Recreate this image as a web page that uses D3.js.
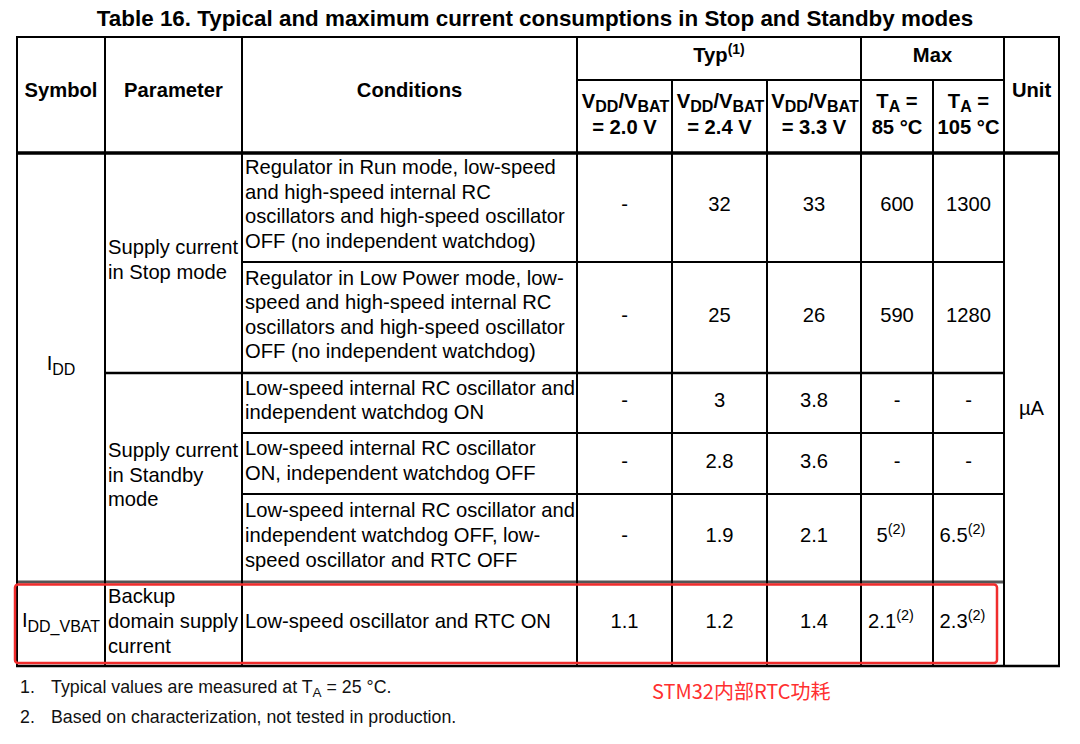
<!DOCTYPE html>
<html><head><meta charset="utf-8">
<script src="https://cdn.jsdelivr.net/npm/d3@7"></script>
<style>
html,body{margin:0;padding:0;background:#fff;}
svg{display:block;font-family:"Liberation Sans",Arial,sans-serif;}
</style></head>
<body>
<svg id="c" width="1080" height="744"></svg>
<script>
// ---------- DATA ----------
const title = "Table 16. Typical and maximum current consumptions in Stop and Standby modes";
const columns = ["Symbol","Parameter","Conditions","typ20","typ24","typ33","max85","max105","Unit"];
const typHeaders = ["= 2.0 V","= 2.4 V","= 3.3 V"];
const maxHeaders = ["85 °C","105 °C"];
const conditions = [
  ["Regulator in Run mode, low-speed","and high-speed internal RC","oscillators and high-speed oscillator","OFF (no independent watchdog)"],
  ["Regulator in Low Power mode, low-","speed and high-speed internal RC","oscillators and high-speed oscillator","OFF (no independent watchdog)"],
  ["Low-speed internal RC oscillator and","independent watchdog ON"],
  ["Low-speed internal RC oscillator","ON, independent watchdog OFF"],
  ["Low-speed internal RC oscillator and","independent watchdog OFF, low-","speed oscillator and RTC OFF"],
  ["Low-speed oscillator and RTC ON"]
];
const typ20  = [null, null, null, null, null, 1.1];
const typ24  = [32, 25, 3, 2.8, 1.9, 1.2];
const typ33  = [33, 26, 3.8, 3.6, 2.1, 1.4];
const max85  = [600, 590, null, null, 5, 2.1];
const max105 = [1300, 1280, null, null, 6.5, 2.3];
const maxNote = [null, null, null, null, "(2)", "(2)"];
const parameters = [
  {rows:[0,1], lines:["Supply current","in Stop mode"]},
  {rows:[2,4], lines:["Supply current","in Standby","mode"]},
  {rows:[5,5], lines:["Backup","domain supply","current"]}
];
const symbols = [
  {rows:[0,4], main:"I", sub:"DD"},
  {rows:[5,5], main:"I", sub:"DD_VBAT"}
];
const unit = "µA";
const footnotes = [
  {n:"1.", parts:[["Typical values are measured at T",0],["A",1],[" = 25 °C.",0]]},
  {n:"2.", parts:[["Based on characterization, not tested in production.",0]]}
];
const annotation = "STM32内部RTC功耗";

// ---------- LAYOUT ----------
const svg = d3.select("#c");
const colEdges = [17,105,242,577,672,767,861,933,1004,1059];
const x = d3.scaleOrdinal().domain(columns).range(colEdges.slice(0,-1));
const xr = d3.scaleOrdinal().domain(columns).range(colEdges.slice(1));
const cx = c => (x(c)+xr(c))/2;
const rowHeights = [110,111,60,61,88,84];
const rowEdges = [152, ...d3.cumsum(rowHeights).map(v=>152+v)];
const yTop = i => rowEdges[i], yBot = i => rowEdges[i+1];
const LH = 24.6;
const FS = 20.2;

// title
svg.append("text").attr("x",535).attr("y",26).attr("text-anchor","middle")
  .attr("font-weight","bold").attr("font-size",22.4).text(title);

const lines = svg.append("g").attr("stroke","#000").attr("fill","none");
function hline(x1,x2,yy,w,col){lines.append("line").attr("x1",x1).attr("x2",x2).attr("y1",yy).attr("y2",yy).attr("stroke-width",w||2).attr("stroke",col||"#000");}
function vline(xx,y1,y2,w){lines.append("line").attr("x1",xx).attr("x2",xx).attr("y1",y1).attr("y2",y2).attr("stroke-width",w||2);}

hline(16,1060,37,2);
hline(577,1004,80,2);
hline(16,1060,153,3.5);
hline(242,1004,yTop(1),2);
hline(105,1004,yTop(2),2.5);
hline(242,1004,yTop(3),2);
hline(242,1004,yTop(4),2);
hline(17,1004,yTop(5),3,"#555");
hline(16,1060,yTop(6),2.5);
[17,105,242,577,861,1004,1059].forEach(v=>vline(v,36,667,2));
[672,767,933].forEach(v=>vline(v,80,667,2));

// header text
const hdr = svg.append("g").attr("font-weight","bold").attr("font-size",20.2).attr("text-anchor","middle");
hdr.append("text").attr("x",cx("Symbol")).attr("y",97).text("Symbol");
hdr.append("text").attr("x",cx("Parameter")).attr("y",97).text("Parameter");
hdr.append("text").attr("x",cx("Conditions")).attr("y",97).text("Conditions");
hdr.append("text").attr("x",cx("Unit")).attr("y",97).text("Unit");
const typT = hdr.append("text").attr("x",(x("typ20")+xr("typ33"))/2).attr("y",62);
typT.append("tspan").text("Typ");
typT.append("tspan").attr("font-size",14).attr("dy",-8).text("(1)");
hdr.append("text").attr("x",(x("max85")+xr("max105"))/2).attr("y",62).text("Max");

["typ20","typ24","typ33"].forEach((c,i)=>{
  const t = hdr.append("text").attr("x",cx(c)+1).attr("y",108);
  t.append("tspan").text("V");
  t.append("tspan").attr("font-size",16).attr("dy",4).text("DD");
  t.append("tspan").attr("dy",-4).text("/V");
  t.append("tspan").attr("font-size",16).attr("dy",4).text("BAT");
  hdr.append("text").attr("x",cx(c)).attr("y",133.5).text(typHeaders[i]);
});
["max85","max105"].forEach((c,i)=>{
  const t = hdr.append("text").attr("x",cx(c)).attr("y",108);
  t.append("tspan").text("T");
  t.append("tspan").attr("font-size",16).attr("dy",4).text("A");
  t.append("tspan").attr("dy",-4).text(" =");
  hdr.append("text").attr("x",cx(c)).attr("y",133.5).text(maxHeaders[i]);
});

// body
const body = svg.append("g").attr("font-size",FS).attr("fill","#000");
body.selectAll("g.cond").data(conditions).join("g").attr("class","cond")
  .each(function(d,i){
    const h = yBot(i)-yTop(i);
    const y0 = yTop(i) + h/2 - (d.length-1)*LH/2 + 4;
    d3.select(this).selectAll("text").data(d).join("text")
      .attr("x",x("Conditions")+3).attr("y",(l,j)=>y0+j*LH).text(l=>l);
  });
const fmt = v => v==null ? "-" : String(v);
const valueCols = [["typ20",typ20],["typ24",typ24],["typ33",typ33],["max85",max85],["max105",max105]];
valueCols.forEach(([c,arr])=>{
  body.selectAll(null).data(arr).join("text")
    .attr("text-anchor","middle")
    .attr("x",(d,i)=> cx(c) + ((c.startsWith("max") && maxNote[i]) ? -6 : 0))
    .attr("y",(d,i)=>(yTop(i)+yBot(i))/2+4)
    .each(function(d,i){
      const t = d3.select(this);
      t.append("tspan").text(fmt(d));
      if (c.startsWith("max") && maxNote[i]) t.append("tspan").attr("font-size",14.5).attr("dy",-8).text(maxNote[i]);
    });
});
parameters.forEach(p=>{
  const top = yTop(p.rows[0]), bot = yBot(p.rows[1]);
  const y0 = (top+bot)/2 - (p.lines.length-1)*LH/2 + 4;
  body.selectAll(null).data(p.lines).join("text")
    .attr("x",x("Parameter")+3).attr("y",(l,j)=>y0+j*LH).text(l=>l);
});
symbols.forEach(s=>{
  const top = yTop(s.rows[0]), bot = yBot(s.rows[1]);
  const t = body.append("text").attr("text-anchor","middle").attr("x",cx("Symbol")).attr("y",(top+bot)/2+3);
  t.append("tspan").text(s.main);
  t.append("tspan").attr("font-size",16).attr("dy",5).text(s.sub);
});
body.append("text").attr("text-anchor","middle").attr("x",cx("Unit")).attr("y",(yTop(0)+yBot(5))/2+6).text(unit);

// highlight box
svg.append("rect").attr("x",15).attr("y",584.5).attr("width",982).attr("height",78.5)
  .attr("rx",3).attr("fill","none").attr("stroke","#f02c2c").attr("stroke-width",2.5);

// footnotes
const fn = svg.append("g").attr("font-size",17.8).attr("fill","#111");
footnotes.forEach((f,i)=>{
  const yy = 693 + i*30;
  fn.append("text").attr("x",20).attr("y",yy).text(f.n);
  const t = fn.append("text").attr("x",51).attr("y",yy);
  f.parts.forEach(([s,sub],k)=>{
    const ts = t.append("tspan").text(s);
    if (sub) ts.attr("font-size",13.5).attr("dy",4);
    else if (k>0) ts.attr("dy",-4);
  });
});
svg.append("text").attr("x",652).attr("y",699).attr("font-size",20)
  .attr("font-family","'Noto Sans CJK SC',sans-serif").attr("fill","#ff2f2f").text(annotation);
</script>
</body></html>
